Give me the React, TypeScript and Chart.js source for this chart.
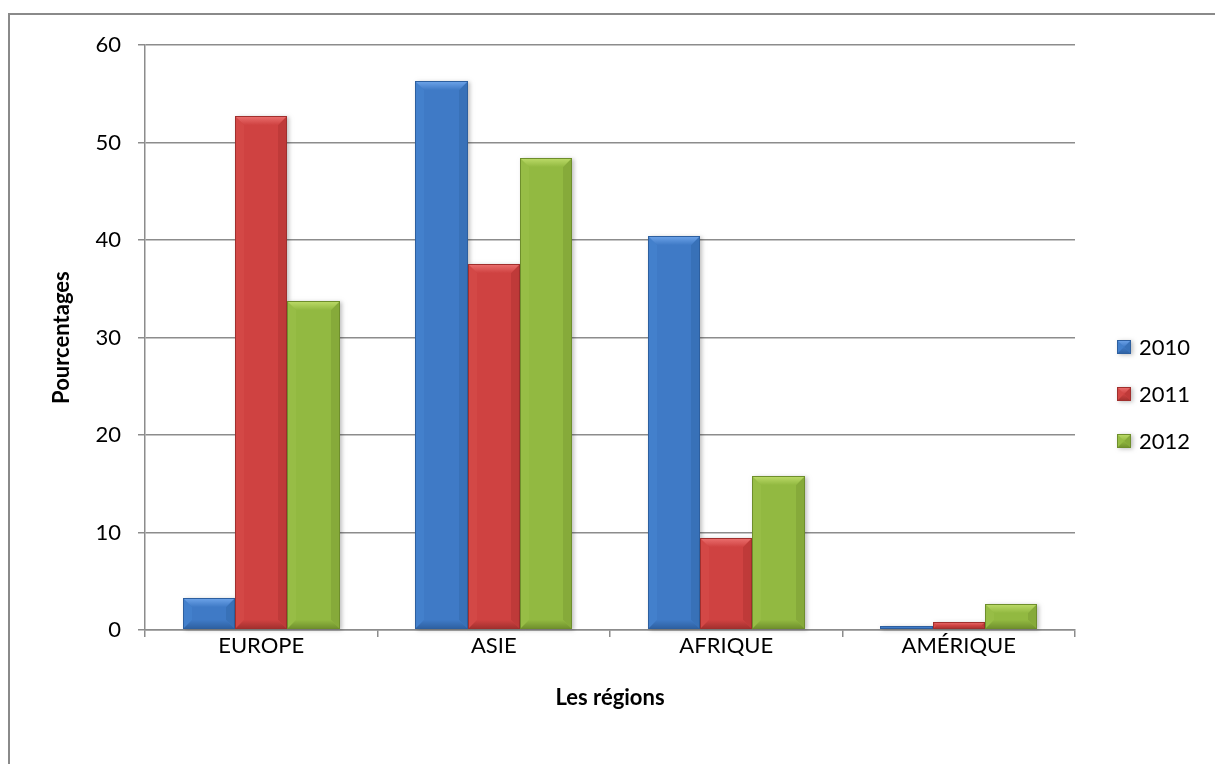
import React, { useEffect, useRef } from "react";
import { Chart, registerables } from "chart.js";

Chart.register(...registerables);

const categories = ["EUROPE", "ASIE", "AFRIQUE", "AMÉRIQUE"];
const seriesNames = ["2010", "2011", "2012"];
const values2010 = [3.3, 56.3, 40.4, 0.4];
const values2011 = [52.7, 37.5, 9.4, 0.8];
const values2012 = [33.8, 48.4, 15.8, 2.7];
const yTicks = [0, 10, 20, 30, 40, 50, 60];

const baseColors = ["#3F7AC6", "#CF4241", "#92B941"];
const lightColors = ["#6FA5EA", "#EC7170", "#BEDC6A"];
const darkColors = ["#2D5F9F", "#A02F2D", "#6E8E2C"];
const sideLight = ["#4380CC", "#D34846", "#97BD46"];
const sideDark = ["#3871B8", "#BF3A39", "#86AA3A"];

const FONT = "Lato, 'Open Sans', sans-serif";

function drawBevel(ctx: CanvasRenderingContext2D, x0: number, y0: number, x1: number, y1: number, i: number) {
  const w = x1 - x0;
  const h = y1 - y0;
  if (w <= 0 || h <= 0) return;
  const b = Math.min(9, h / 2, w / 2);
  ctx.save();
  ctx.shadowColor = "rgba(0,0,0,0.25)";
  ctx.shadowBlur = 4;
  ctx.shadowOffsetX = 2;
  ctx.shadowOffsetY = 1;
  ctx.fillStyle = baseColors[i];
  ctx.fillRect(x0, y0, w, h);
  ctx.restore();
  // left
  ctx.fillStyle = sideLight[i];
  ctx.beginPath();
  ctx.moveTo(x0, y0);
  ctx.lineTo(x0 + b, y0 + b);
  ctx.lineTo(x0 + b, y1 - b);
  ctx.lineTo(x0, y1);
  ctx.closePath();
  ctx.fill();
  // right
  ctx.fillStyle = sideDark[i];
  ctx.beginPath();
  ctx.moveTo(x1, y0);
  ctx.lineTo(x1 - b, y0 + b);
  ctx.lineTo(x1 - b, y1 - b);
  ctx.lineTo(x1, y1);
  ctx.closePath();
  ctx.fill();
  // top
  const g = ctx.createLinearGradient(0, y0, 0, y0 + b);
  g.addColorStop(0, lightColors[i]);
  g.addColorStop(1, baseColors[i]);
  ctx.fillStyle = g;
  ctx.beginPath();
  ctx.moveTo(x0, y0);
  ctx.lineTo(x1, y0);
  ctx.lineTo(x1 - b, y0 + b);
  ctx.lineTo(x0 + b, y0 + b);
  ctx.closePath();
  ctx.fill();
  // bottom
  const g2 = ctx.createLinearGradient(0, y1 - b, 0, y1);
  g2.addColorStop(0, baseColors[i]);
  g2.addColorStop(1, darkColors[i]);
  ctx.fillStyle = g2;
  ctx.beginPath();
  ctx.moveTo(x0, y1);
  ctx.lineTo(x0 + b, y1 - b);
  ctx.lineTo(x1 - b, y1 - b);
  ctx.lineTo(x1, y1);
  ctx.closePath();
  ctx.fill();
  ctx.strokeStyle = darkColors[i];
  ctx.lineWidth = 1;
  ctx.strokeRect(x0 + 0.5, y0 + 0.5, w - 1, h - 1);
}

const bevelPlugin = {
  id: "bevelBars",
  afterDatasetsDraw(chart: any) {
    const ctx = chart.ctx as CanvasRenderingContext2D;
    chart.data.datasets.forEach((_: any, di: number) => {
      const meta = chart.getDatasetMeta(di);
      meta.data.forEach((el: any) => {
        const p = el.getProps(["x", "y", "base", "width"], true);
        const x0 = Math.round(p.x - p.width / 2);
        const x1 = Math.round(p.x + p.width / 2);
        const y0 = Math.round(Math.min(p.y, p.base));
        const y1 = Math.round(Math.max(p.y, p.base));
        drawBevel(ctx, x0, y0, x1, y1, di);
      });
    });
  },
};

const legendPlugin = {
  id: "customLegend",
  afterDraw(chart: any) {
    const ctx = chart.ctx as CanvasRenderingContext2D;
    const startY = 332;
    const gap = 47;
    chart.data.datasets.forEach((ds: any, i: number) => {
      const cy = startY + i * gap;
      drawBevel(ctx, 1107, cy - 7, 1121, cy + 7, i);
      ctx.fillStyle = "#000";
      ctx.font = `22px ${FONT}`;
      ctx.textAlign = "left";
      ctx.textBaseline = "middle";
      ctx.fillText(ds.label, 1129, cy + 1);
    });
  },
};

export default function App() {
  const ref = useRef<HTMLCanvasElement | null>(null);
  useEffect(() => {
    document.body.style.margin = "0";
    if (!ref.current) return;
    const chart = new Chart(ref.current, {
      type: "bar",
      data: {
        labels: categories,
        datasets: [
          { label: seriesNames[0], data: values2010, backgroundColor: "rgba(0,0,0,0)" },
          { label: seriesNames[1], data: values2011, backgroundColor: "rgba(0,0,0,0)" },
          { label: seriesNames[2], data: values2012, backgroundColor: "rgba(0,0,0,0)" },
        ],
      },
      options: {
        animation: false,
        responsive: false,
        layout: { padding: { top: 29, right: 140, bottom: 0, left: 0 } },
        datasets: { bar: { categoryPercentage: 0.675, barPercentage: 1 } },
        plugins: { legend: { display: false }, tooltip: { enabled: false } },
        scales: {
          x: {
            grid: {
              offset: true,
              drawOnChartArea: false,
              drawTicks: true,
              tickLength: 7,
              color: "#8c8c8c",
              lineWidth: 1.5,
            },
            border: { color: "#8c8c8c", width: 1.5 },
            ticks: { color: "#000", font: { family: FONT, size: 22 }, padding: -4 },
            title: {
              display: true,
              text: "Les régions",
              color: "#000",
              font: { family: FONT, size: 22, weight: "bold" },
              padding: { top: 53, bottom: 53 },
            },
            afterFit(scale: any) {
              scale.height = 134;
            },
          },
          y: {
            min: 0,
            max: 60,
            afterBuildTicks(scale: any) {
              scale.ticks = yTicks.map((v) => ({ value: v }));
            },
            grid: { color: "#8c8c8c", lineWidth: 1.5, tickLength: 7 },
            border: { color: "#8c8c8c", width: 1.5 },
            ticks: { color: "#000", font: { family: FONT, size: 22 }, padding: 17 },
            title: {
              display: true,
              text: "Pourcentages",
              color: "#000",
              font: { family: FONT, size: 22, weight: "bold" },
              padding: { top: 39, bottom: 39 },
            },
            afterFit(scale: any) {
              scale.width = 135;
            },
          },
        },
      } as any,
      plugins: [bevelPlugin, legendPlugin],
    });
    return () => chart.destroy();
  }, []);
  return (
    <div
      style={{
        position: "absolute",
        left: 8,
        top: 13,
        width: 1207,
        height: 751,
        borderLeft: "2px solid #8a8a8a",
        borderTop: "2px solid #8a8a8a",
        boxSizing: "border-box",
        background: "#fff",
      }}
    >
      <canvas ref={ref} width={1205} height={749} style={{ display: "block" }} />
    </div>
  );
}
